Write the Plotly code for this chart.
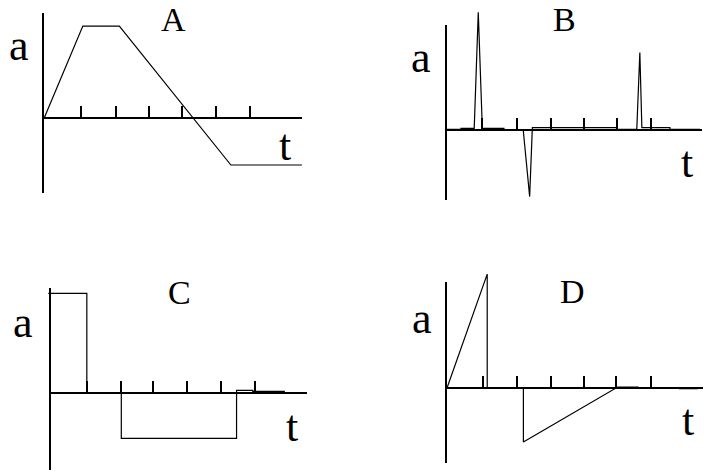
import plotly.graph_objects as go

W, H = 710, 471

# ---------------- data (t in tick units, a in same grid units) ----------------
A_t = [0.00, 1.14, 2.22, 5.52, 7.62]
A_a = [0.00, 2.71, 2.71, -1.40, -1.40]
A_ticks = [1.09, 2.11, 3.09, 4.08, 5.07, 6.09]

B_t = [0.00, 0.43, 0.43, 0.82, 0.94, 1.06, 1.70, 1.70, 2.27, 2.46, 2.54,
       5.04, 5.04, 5.63, 5.72, 5.78, 6.61, 6.61, 7.50]
B_a = [0.02, 0.02, 0.05, 0.05, 3.48, 0.05, 0.05, 0.00, 0.00, -1.97, 0.07,
       0.07, 0.02, 0.02, 2.29, 0.07, 0.07, 0.02, 0.02]
B_ticks = [1.06, 2.08, 3.08, 4.08, 5.04, 6.05]

C_t = [-0.08, 1.06, 1.06, 2.08, 2.08, 5.49, 5.49, 5.97, 5.97, 6.92]
C_a = [2.94, 2.94, 0.00, 0.00, -1.35, -1.35, 0.07, 0.07, 0.04, 0.04]
C_ticks = [1.06, 2.06, 3.03, 4.03, 5.02, 6.04]

D_t = [0.00, 1.19, 1.19, 2.26, 2.26, 5.05, 5.67, None, 6.86, 7.42]
D_a = [0.00, 3.37, 0.00, 0.00, -1.60, 0.03, 0.03, None, -0.02, -0.02]
D_ticks = [1.06, 2.06, 3.07, 4.05, 5.01, 6.05]

titles = ["A", "B", "C", "D"]
y_label = "a"
x_label = "t"

# ---------------- layout geometry (pixels) ----------------
SX = SY = 33.8  # pixels per unit
geom = [
    dict(ox=44.3, oy=117.7, vtop=12.7, vbot=192.7, hend=301.7, box=(20, 0, 330, 215),
         title=(173, 19.5), alab=(19, 45.5), tlab=(285, 146)),
    dict(ox=446.5, oy=130.0, vtop=25.0, vbot=200.0, hend=702.0, box=(435, 0, 710, 215),
         title=(564, 19.5), alab=(421, 58), tlab=(687, 163)),
    dict(ox=51.0, oy=392.7, vtop=288.3, vbot=470.0, hend=306.7, box=(20, 262, 330, 471),
         title=(179, 292), alab=(23, 322), tlab=(292, 426)),
    dict(ox=447.0, oy=388.0, vtop=281.7, vbot=463.0, hend=702.7, box=(435, 262, 710, 471),
         title=(572, 291), alab=(422, 318), tlab=(688, 420)),
]
series = [(A_t, A_a, A_ticks), (B_t, B_a, B_ticks), (C_t, C_a, C_ticks), (D_t, D_a, D_ticks)]

fig = go.Figure()
layout = {}
annotations = []
FONT = "Liberation Serif, Times New Roman, serif"

for i, (g, (tt, aa, ticks)) in enumerate(zip(geom, series)):
    fi = i + 1          # frame axes
    di = i + 5          # data axes
    fx, fy = f"x{fi}", f"y{fi}"
    dx, dy = f"x{di}", f"y{di}"

    # frame subplot (axis lines + ticks)
    fig.add_trace(go.Scatter(x=[0], y=[0], xaxis=fx, yaxis=fy, mode="markers",
                             marker=dict(opacity=0, size=1), hoverinfo="skip", showlegend=False))
    layout[f"xaxis{fi}"] = dict(
        domain=[g["ox"] / W, g["hend"] / W],
        range=[0, (g["hend"] - g["ox"]) / SX],
        anchor="free", position=1 - g["oy"] / H,
        showline=True, linecolor="black", linewidth=2,
        ticks="inside", tickvals=ticks, ticklen=11, tickwidth=2, tickcolor="black",
        showticklabels=False, showgrid=False, zeroline=False, fixedrange=True,
    )
    layout[f"yaxis{fi}"] = dict(
        domain=[1 - g["vbot"] / H, 1 - g["vtop"] / H],
        range=[(g["oy"] - g["vbot"]) / SY, (g["oy"] - g["vtop"]) / SY],
        anchor=fx, showline=True, linecolor="black", linewidth=2,
        ticks="", showticklabels=False, showgrid=False, zeroline=False, fixedrange=True,
    )

    # data subplot (curve), same scale, larger area
    L, T, R, B = g["box"]
    fig.add_trace(go.Scatter(x=tt, y=aa, xaxis=dx, yaxis=dy, mode="lines",
                             line=dict(color="black", width=1.2), hoverinfo="skip",
                             showlegend=False, connectgaps=False))
    layout[f"xaxis{di}"] = dict(domain=[L / W, R / W],
                                range=[(L - g["ox"]) / SX, (R - g["ox"]) / SX],
                                visible=False, anchor=dy, fixedrange=True)
    layout[f"yaxis{di}"] = dict(domain=[1 - B / H, 1 - T / H],
                                range=[(g["oy"] - B) / SY, (g["oy"] - T) / SY],
                                visible=False, anchor=dx, fixedrange=True)

    for (cx, cy), txt, size in [(g["title"], titles[i], 34),
                                (g["alab"], y_label, 44),
                                (g["tlab"], x_label, 44)]:
        annotations.append(dict(x=cx / W, y=1 - cy / H, xref="paper", yref="paper",
                                text=txt, showarrow=False, xanchor="center", yanchor="middle",
                                font=dict(family=FONT, size=size, color="black")))

fig.update_layout(
    width=W, height=H, margin=dict(l=0, r=0, t=0, b=0),
    paper_bgcolor="white", plot_bgcolor="rgba(0,0,0,0)",
    annotations=annotations, showlegend=False, **layout,
)
fig.write_html("out.html", config={"displayModeBar": False})
